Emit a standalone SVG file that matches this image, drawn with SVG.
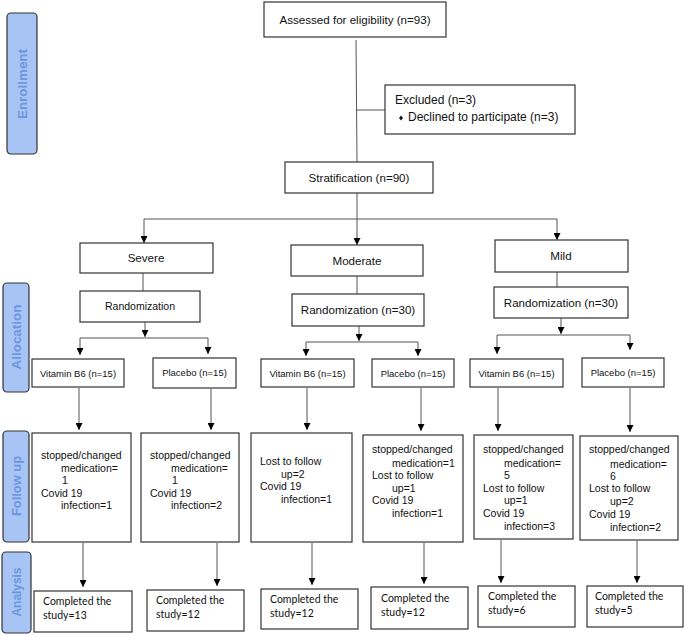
<svg xmlns="http://www.w3.org/2000/svg" width="685" height="635" viewBox="0 0 685 635">
<defs>
<marker id="arr" viewBox="0 0 8 8" refX="8" refY="4" markerWidth="7" markerHeight="7" markerUnits="userSpaceOnUse" orient="auto">
<path d="M0,0 L8,4 L0,8 z" fill="#000"/>
</marker>
<style>
rect.box{fill:#fff;stroke:#333;stroke-width:1.2}
rect.lab{fill:#a8c4f4;stroke:#333;stroke-width:1.2}
text{font-family:"Liberation Sans",Arial,sans-serif;fill:#111}
.c{text-anchor:middle}
.big{font-size:11.6px}
.mid{font-size:10.5px}
.sm{font-size:9.5px}
.fu{font-size:10.5px}
.an{font-family:Lato,"Open Sans",sans-serif;font-size:10.5px}
.lt{font-family:"Liberation Sans",Arial,sans-serif;font-weight:bold;font-size:13px;fill:#6b97e0;text-anchor:middle}
#connectors line,#connectors path{stroke:#555;stroke-width:1;fill:none}
.a{marker-end:url(#arr)}
</style>
</defs>

<g id="labels">
<g id="lab-enrollment"><rect class="lab" x="7" y="13" width="30" height="141" rx="4"/><text class="lt" transform="translate(27,84) rotate(-90)" textLength="70" lengthAdjust="spacingAndGlyphs">Enrollment</text></g>
<g id="lab-allocation"><rect class="lab" x="3" y="283" width="26" height="109" rx="4"/><text class="lt" transform="translate(21,337) rotate(-90)" textLength="65" lengthAdjust="spacingAndGlyphs">Allocation</text></g>
<g id="lab-followup"><rect class="lab" x="3" y="431" width="26" height="111" rx="4"/><text class="lt" transform="translate(21,486) rotate(-90)" textLength="60" lengthAdjust="spacingAndGlyphs">Follow up</text></g>
<g id="lab-analysis"><rect class="lab" x="2" y="552" width="29" height="81" rx="4"/><text class="lt" transform="translate(21,592) rotate(-90)" textLength="49" lengthAdjust="spacingAndGlyphs">Analysis</text></g>
</g>

<g id="connectors">
<line x1="356" y1="40" x2="357" y2="162"/>
<line x1="357" y1="110" x2="385" y2="110"/>
<line x1="357" y1="193" x2="357" y2="219"/>
<line x1="144" y1="219" x2="557" y2="219"/>
<line class="a" x1="144" y1="219" x2="144" y2="243"/>
<line class="a" x1="357" y1="219" x2="357" y2="245"/>
<line class="a" x1="557" y1="219" x2="557" y2="240"/>

<line x1="143" y1="273" x2="143" y2="291"/>
<line x1="357" y1="276" x2="357" y2="294"/>
<line x1="557" y1="272" x2="557" y2="287"/>

<line class="a" x1="145" y1="322" x2="145" y2="337"/>
<line x1="80" y1="338" x2="208" y2="338"/>
<line class="a" x1="80" y1="338" x2="80" y2="355"/>
<line class="a" x1="208" y1="338" x2="208" y2="354"/>

<line class="a" x1="359" y1="326" x2="359" y2="341"/>
<line x1="306" y1="342" x2="418" y2="342"/>
<line class="a" x1="306" y1="342" x2="306" y2="356"/>
<line class="a" x1="418" y1="342" x2="418" y2="356"/>

<line class="a" x1="561" y1="318" x2="561" y2="334"/>
<line x1="497" y1="335" x2="630" y2="335"/>
<line class="a" x1="497" y1="335" x2="497" y2="354"/>
<line class="a" x1="630" y1="335" x2="630" y2="350"/>

<line class="a" x1="79" y1="388" x2="79" y2="430"/>
<line class="a" x1="211" y1="389" x2="211" y2="430"/>
<line class="a" x1="307" y1="388" x2="307" y2="430"/>
<line class="a" x1="421" y1="388" x2="421" y2="431"/>
<line class="a" x1="498" y1="388" x2="498" y2="431"/>
<line class="a" x1="630" y1="388" x2="630" y2="432"/>

<line class="a" x1="83" y1="543" x2="83" y2="587"/>
<line class="a" x1="217" y1="543" x2="217" y2="586"/>
<line class="a" x1="312" y1="543" x2="312" y2="585"/>
<line class="a" x1="424" y1="543" x2="424" y2="584"/>
<line class="a" x1="501" y1="540" x2="501" y2="583"/>
<line class="a" x1="637" y1="541" x2="637" y2="583"/>
</g>

<g id="assessed"><rect class="box" x="264" y="2" width="182" height="35"/><text class="c big" x="355" y="24">Assessed for eligibility (n=93)</text></g>
<g id="excluded"><rect class="box" x="385" y="85" width="190" height="49"/><text style="font-size:12px" x="395" y="104">Excluded (n=3)</text><path d="M401,115.5 L403,118 L401,120.5 L399,118 z" fill="#111"/><text style="font-size:12px" x="408" y="121">Declined to participate (n=3)</text></g>
<g id="stratification"><rect class="box" x="285" y="162" width="148" height="31"/><text class="c big" x="359" y="182">Stratification (n=90)</text></g>

<g id="severe"><rect class="box" x="80" y="243" width="133" height="30"/><text class="c big" x="146" y="262">Severe</text></g>
<g id="moderate"><rect class="box" x="291" y="245" width="132" height="31"/><text class="c big" x="357" y="265">Moderate</text></g>
<g id="mild"><rect class="box" x="495" y="240" width="133" height="32"/><text class="c big" x="561" y="260">Mild</text></g>

<g id="rand-severe"><rect class="box" x="80" y="291" width="120" height="31"/><text class="c mid" x="140" y="310">Randomization</text></g>
<g id="rand-moderate"><rect class="box" x="292" y="294" width="132" height="32"/><text class="c big" x="358" y="314">Randomization (n=30)</text></g>
<g id="rand-mild"><rect class="box" x="494" y="287" width="134" height="31"/><text class="c big" x="561" y="307">Randomization (n=30)</text></g>

<g id="sev-b6"><rect class="box" x="32" y="359" width="92" height="28"/><text class="c sm" x="78" y="377">Vitamin B6 (n=15)</text></g>
<g id="sev-pl"><rect class="box" x="153" y="358" width="83" height="30"/><text class="c sm" x="194.5" y="376">Placebo (n=15)</text></g>
<g id="mod-b6"><rect class="box" x="261" y="359" width="93" height="28"/><text class="c sm" x="307.5" y="377">Vitamin B6 (n=15)</text></g>
<g id="mod-pl"><rect class="box" x="372" y="359" width="82" height="28"/><text class="c sm" x="413" y="377">Placebo (n=15)</text></g>
<g id="mild-b6"><rect class="box" x="470" y="359" width="93" height="28"/><text class="c sm" x="516.5" y="377">Vitamin B6 (n=15)</text></g>
<g id="mild-pl"><rect class="box" x="582" y="358" width="82" height="29"/><text class="c sm" x="623" y="376">Placebo (n=15)</text></g>

<g id="fu-sev-b6"><rect class="box" x="32" y="433" width="99" height="109"/>
<text class="fu" x="41" y="459">stopped/changed</text><text class="fu" x="61" y="472">medication=</text><text class="fu" x="62" y="484">1</text><text class="fu" x="41" y="497">Covid 19</text><text class="fu" x="61" y="509">infection=1</text></g>
<g id="fu-sev-pl"><rect class="box" x="141" y="433" width="98" height="109"/>
<text class="fu" x="150" y="459">stopped/changed</text><text class="fu" x="171" y="472">medication=</text><text class="fu" x="172" y="484">1</text><text class="fu" x="150" y="497">Covid 19</text><text class="fu" x="171" y="509">infection=2</text></g>
<g id="fu-mod-b6"><rect class="box" x="251" y="433" width="101" height="109"/>
<text class="fu" x="260" y="465">Lost to follow</text><text class="fu" x="281" y="478">up=2</text><text class="fu" x="260" y="490">Covid 19</text><text class="fu" x="281" y="503">infection=1</text></g>
<g id="fu-mod-pl"><rect class="box" x="363" y="435" width="100" height="107"/>
<text class="fu" x="372" y="453">stopped/changed</text><text class="fu" x="392" y="467">medication=1</text><text class="fu" x="372" y="479">Lost to follow</text><text class="fu" x="392" y="492">up=1</text><text class="fu" x="372" y="504">Covid 19</text><text class="fu" x="392" y="517">infection=1</text></g>
<g id="fu-mild-b6"><rect class="box" x="474" y="435" width="99" height="104"/>
<text class="fu" x="483" y="453">stopped/changed</text><text class="fu" x="504" y="467">medication=</text><text class="fu" x="504" y="479">5</text><text class="fu" x="483" y="492">Lost to follow</text><text class="fu" x="504" y="504">up=1</text><text class="fu" x="483" y="517">Covid 19</text><text class="fu" x="504" y="530">infection=3</text></g>
<g id="fu-mild-pl"><rect class="box" x="580" y="436" width="98" height="104"/>
<text class="fu" x="589" y="453">stopped/changed</text><text class="fu" x="610" y="468">medication=</text><text class="fu" x="610" y="480">6</text><text class="fu" x="589" y="492">Lost to follow</text><text class="fu" x="610" y="505">up=2</text><text class="fu" x="589" y="518">Covid 19</text><text class="fu" x="610" y="531">infection=2</text></g>

<g id="an-sev-b6"><rect class="box" x="34" y="591" width="98" height="41"/><text class="an" x="43" y="605">Completed the</text><text class="an" x="43" y="619">study=13</text></g>
<g id="an-sev-pl"><rect class="box" x="147" y="590" width="97" height="41"/><text class="an" x="156" y="604">Completed the</text><text class="an" x="156" y="618">study=12</text></g>
<g id="an-mod-b6"><rect class="box" x="261" y="589" width="97" height="40"/><text class="an" x="270" y="603">Completed the</text><text class="an" x="270" y="617">study=12</text></g>
<g id="an-mod-pl"><rect class="box" x="371" y="587" width="97" height="42"/><text class="an" x="381" y="602">Completed the</text><text class="an" x="381" y="616">study=12</text></g>
<g id="an-mild-b6"><rect class="box" x="478" y="586" width="97" height="41"/><text class="an" x="488" y="600">Completed the</text><text class="an" x="488" y="614">study=6</text></g>
<g id="an-mild-pl"><rect class="box" x="587" y="586" width="96" height="41"/><text class="an" x="595" y="600">Completed the</text><text class="an" x="595" y="614">study=5</text></g>
</svg>
